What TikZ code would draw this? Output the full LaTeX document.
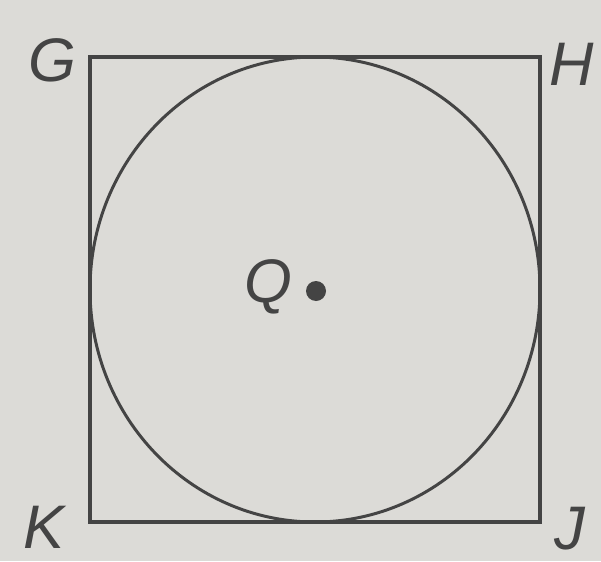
\documentclass[tikz,border=0pt]{standalone}
\usepackage{fontspec}
\setsansfont{Liberation Sans}
\usepackage{tikz}
\usetikzlibrary{positioning}
\definecolor{bggray}{HTML}{DCDBD7}
\definecolor{inkgray}{HTML}{444444}

\begin{document}
\begin{tikzpicture}[
  x=0.02cm, y=-0.02cm,
  edge/.style={draw=inkgray, line width=2.6pt},
  ring/.style={draw=inkgray, line width=1.7pt},
  vlabel/.style={font=\fontsize{35}{37}\selectfont\sffamily\itshape, text=inkgray, inner sep=0pt},
  centerdot/.style={circle, fill=inkgray, minimum size=0.4cm, inner sep=0pt}
]
  % Background
  \fill[bggray] (0,0) rectangle (601,561);

  % Square corners
  \coordinate (G) at (90,57);
  \coordinate (H) at (540,57);
  \coordinate (J) at (540,522);
  \coordinate (K) at (90,522);
  \coordinate (Q) at (315,289.5);

  % Square and inscribed circle
  \draw[edge] (G) -- (H) -- (J) -- (K) -- cycle;
  \draw[ring] (Q) ellipse [x radius=225, y radius=232.5];

  % Center point
  \node[centerdot] (dotQ) at (316,291) {};
  \node[vlabel] (labQ) at (268,287) {Q};

  % Vertex labels
  \node[vlabel] (labG) at (52,60) {G};
  \node[vlabel] (labH) at (572,64) {H};
  \node[vlabel] (labK) at (44,527) {K};
  \node[vlabel] (labJ) at (570,529) {J};
\end{tikzpicture}
\end{document}
